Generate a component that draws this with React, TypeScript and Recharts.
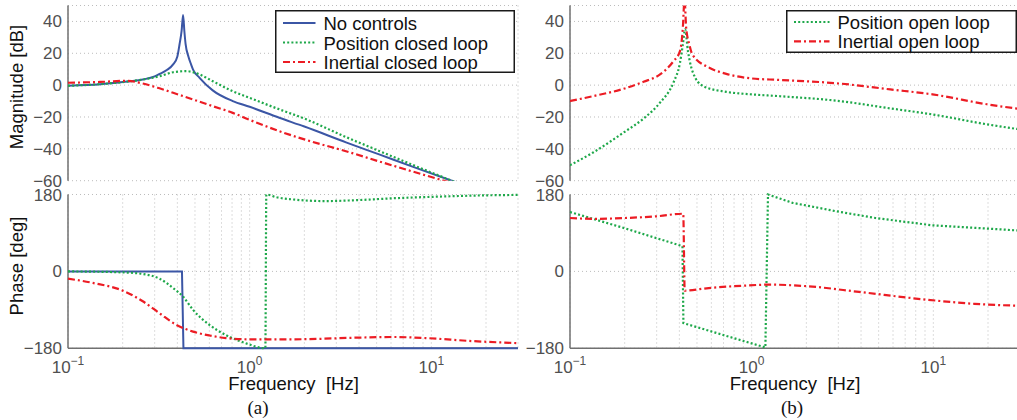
import React from 'react';
import { LineChart, Line, XAxis, YAxis, CartesianGrid, Legend } from 'recharts';

// ---------- axes ----------
const FREQ_DOMAIN: [number, number] = [0.1, 30];
const freqGridTicks = [0.1, 0.2, 0.3, 0.4, 0.5, 0.6, 0.7, 0.8, 0.9, 1, 2, 3, 4, 5, 6, 7, 8, 9, 10, 20];
const decadeTicks = [0.1, 1, 10];
const decadeExponents = ['\u22121', '0', '1'];
const MAG_DOMAIN: [number, number] = [-60, 50];
const magTicks = [-60, -40, -20, 0, 20, 40];
const PHASE_DOMAIN: [number, number] = [-180, 180];
const phaseTicks = [-180, 0, 180];

// ---------- (a) closed loop magnitude [dB] ----------
const noCtrlMagFreq = [0.1, 0.15, 0.2, 0.258, 0.3, 0.319, 0.35, 0.379, 0.4, 0.411, 0.422, 0.43, 0.437, 0.444, 0.46, 0.476, 0.488, 0.53, 0.626, 0.807, 1.0, 1.456, 2.0, 3.39, 5.16, 7.87, 13.3, 20, 30];
const noCtrlMagDb = [-0.4, 0.5, 1.9, 3.5, 5.5, 7, 9.5, 13, 18, 25.5, 34, 44, 34, 25.7, 18, 13, 9.8, 4.6, -3.3, -10, -13.6, -20.5, -26, -35.9, -43.5, -51.2, -60.5, -67.5, -74.5];

const posClosedMagFreq = [0.1, 0.15, 0.2, 0.258, 0.319, 0.379, 0.447, 0.53, 0.626, 0.807, 1.0, 1.456, 2.0, 3.39, 5.16, 7.87, 13.3, 20, 30];
const posClosedMagDb = [-0.4, 0.6, 1.9, 3.5, 5.6, 8.1, 8.8, 6.7, 2.5, -3.8, -8, -15.2, -21, -32.6, -41.3, -50, -60.5, -68.5, -76];

const inClosedMagFreq = [0.1, 0.15, 0.21, 0.258, 0.319, 0.379, 0.488, 0.626, 0.807, 1.0, 1.55, 2.2, 3.39, 5.16, 7.87, 12.2, 20, 30];
const inClosedMagDb = [1.5, 2.0, 2.7, 1.0, -2, -4.8, -9, -13.2, -17.4, -21.8, -30, -35.5, -41.5, -47.9, -54.2, -60.5, -67, -73];

// ---------- (a) closed loop phase [deg] ----------
const noCtrlPhaseFreq = [0.1, 0.424, 0.432, 30];
const noCtrlPhaseDeg = [0, 0, -180, -180];

const posClosedPhaseFreq = [0.1, 0.2, 0.258, 0.319, 0.379, 0.43, 0.488, 0.6, 0.74, 0.95, 1.22, 1.235, 1.39, 1.72, 2.62, 3.99, 6.07, 9.3, 19.8, 30];
const posClosedPhaseDeg = [0, -2.3, -6, -17, -39, -59, -90, -125, -149, -168, -180, 180, 174, 168.5, 164.6, 167, 171, 174, 178, 179];

const inClosedPhaseFreq = [0.1, 0.137, 0.2, 0.258, 0.319, 0.394, 0.488, 0.6, 0.74, 1.0, 1.72, 3.99, 6.07, 9.3, 16.6, 30];
const inClosedPhaseDeg = [-17, -27, -45, -70, -98, -125, -141, -150, -156, -159, -159, -155, -153.5, -156, -163, -168];

// ---------- (b) open loop magnitude [dB] ----------
const posOpenMagFreq = [0.1, 0.134, 0.2, 0.254, 0.313, 0.371, 0.403, 0.418, 0.43, 0.446, 0.472, 0.54, 0.725, 1.0, 1.41, 3.05, 5.8, 9.9, 19.7, 30];
const posOpenMagDb = [-50.3, -42.3, -29.3, -21, -11, 1.6, 14, 25.5, 35, 21.3, 8.8, -0.6, -4.2, -5.8, -6.9, -10, -14.6, -18.4, -24.6, -27.8];

const inOpenMagFreq = [0.1, 0.134, 0.2, 0.254, 0.313, 0.371, 0.403, 0.418, 0.427, 0.436, 0.454, 0.472, 0.588, 0.725, 1.0, 1.41, 3.05, 5.8, 9.9, 19.7, 30];
const inOpenMagDb = [-10, -6.9, -2.1, 2.1, 6.7, 15, 21.3, 36, 54, 36, 25.5, 19.2, 10.8, 7.1, 4.2, 3.3, 1.0, -2.7, -5.8, -12, -15];

// ---------- (b) open loop phase [deg] ----------
const posOpenPhaseFreq = [0.1, 0.2, 0.416, 0.421, 0.725, 1.19, 1.23, 1.68, 2.9, 4.8, 9.8, 16.9, 30];
const posOpenPhaseDeg = [139, 101, 59, -121, -151, -178, 180, 160.5, 141, 125, 108, 102, 95.5];

const inOpenPhaseFreq = [0.1, 0.134, 0.2, 0.3, 0.42, 0.428, 0.58, 0.89, 1.25, 2.07, 3.9, 9.1, 16.9, 30];
const inOpenPhaseDeg = [125, 123, 125, 129, 135, -45, -39, -33.6, -31, -35, -48, -66, -76, -80.5];

// ---------- styling ----------
const FONT = '"Liberation Sans", Arial, Helvetica, sans-serif';
const SERIF = '"Liberation Serif", "Times New Roman", serif';
const TICK_COLOR = '#505050';
const FRAME = '#707070';
const GRID = '#bcbcbc';
const BLUE = '#3b56a5';
const GREEN = '#1ea84a';
const RED = '#ec1c24';

type SeriesStyle = { name: string; color: string; dash?: string; width: number };
const styleNoCtrl: SeriesStyle = { name: 'No controls', color: BLUE, width: 2 };
const stylePosClosed: SeriesStyle = { name: 'Position closed loop', color: GREEN, dash: '2 2.2', width: 2.2 };
const styleInClosed: SeriesStyle = { name: 'Inertial closed loop', color: RED, dash: '7 3 2 3', width: 2.2 };
const stylePosOpen: SeriesStyle = { name: 'Position open loop', color: GREEN, dash: '2 2.2', width: 2.2 };
const styleInOpen: SeriesStyle = { name: 'Inertial open loop', color: RED, dash: '7 3 2 3', width: 2.2 };

const zip = (f: number[], v: number[]) => f.map((x, i) => ({ f: x, v: v[i] }));

const fmtY = (v: number) => (v < 0 ? '\u2212' + Math.abs(v) : String(v));

const DecadeTick = (props: any) => {
  const { x, y, payload } = props;
  const i = decadeTicks.indexOf(payload.value);
  if (i < 0) return <g />;
  return (
    <text x={x} y={y + 18.5} textAnchor="middle" fill={TICK_COLOR} fontSize={17} fontFamily={FONT}>
      <tspan>10</tspan>
      <tspan dy={-8} fontSize={12}>{decadeExponents[i]}</tspan>
    </text>
  );
};

const LegendBox = ({ items, width, height, textX, baselines }: { items: SeriesStyle[]; width: number; height: number; textX: number; baselines: number[] }) => (
  <svg width={width} height={height} style={{ display: 'block' }}>
    <rect x={0.75} y={0.75} width={width - 1.5} height={height - 1.5} fill="#ffffff" stroke="#1a1a1a" strokeWidth={1.5} />
    {items.map((it, i) => (
      <g key={it.name}>
        <line x1={8} x2={textX - 8} y1={baselines[i] - 7} y2={baselines[i] - 7} stroke={it.color} strokeWidth={it.width} strokeDasharray={it.dash} />
        <text x={textX} y={baselines[i]} fontSize={18.5} fontFamily={FONT} fill="#111">{it.name}</text>
      </g>
    ))}
  </svg>
);

type Curve = 'monotone' | 'linear';
type PanelProps = {
  left: number;
  top: number;
  width: number;
  height: number;
  marginTop: number;
  marginRight: number;
  marginBottom: number;
  xAxisHeight: number;
  showXLabels: boolean;
  clip: boolean;
  yDomain: [number, number];
  yTicks: number[];
  series: { data: { f: number; v: number }[]; style: SeriesStyle; curve: Curve }[];
  legend?: React.ReactNode;
};

const Panel = (p: PanelProps) => (
  <div style={{ position: 'absolute', left: p.left, top: p.top }}>
    <LineChart width={p.width} height={p.height} margin={{ top: p.marginTop, right: p.marginRight, bottom: p.marginBottom, left: 0 }}>
      <CartesianGrid stroke={GRID} strokeDasharray="1 3" strokeWidth={1} />
      <XAxis
        dataKey="f"
        type="number"
        scale="log"
        domain={FREQ_DOMAIN}
        allowDataOverflow={p.clip}
        ticks={freqGridTicks}
        interval={0}
        tick={p.showXLabels ? <DecadeTick /> : false}
        tickLine={false}
        tickSize={4}
        tickMargin={2}
        height={p.xAxisHeight}
        axisLine={{ stroke: FRAME, strokeWidth: 1.5 }}
      />
      <XAxis
        xAxisId="top"
        orientation="top"
        dataKey="f"
        type="number"
        scale="log"
        domain={FREQ_DOMAIN}
        allowDataOverflow
        height={0}
        tick={false}
        tickLine={false}
        axisLine={{ stroke: FRAME, strokeWidth: 1.5 }}
      />
      <YAxis
        type="number"
        domain={p.yDomain}
        allowDataOverflow={p.clip}
        ticks={p.yTicks}
        interval={0}
        width={68}
        tickLine={false}
        tickSize={4}
        tickMargin={2}
        tickFormatter={fmtY}
        tick={{ fill: TICK_COLOR, fontSize: 17, fontFamily: FONT }}
        axisLine={{ stroke: FRAME, strokeWidth: 1.5 }}
      />
      <YAxis
        yAxisId="right"
        orientation="right"
        type="number"
        domain={p.yDomain}
        width={0}
        tick={false}
        tickLine={false}
        axisLine={{ stroke: FRAME, strokeWidth: 1.5 }}
      />
      {p.series.map((s) => (
        <Line
          key={s.style.name}
          name={s.style.name}
          data={s.data}
          dataKey="v"
          type={s.curve}
          dot={false}
          activeDot={false}
          stroke={s.style.color}
          strokeWidth={s.style.width}
          strokeDasharray={s.style.dash}
          isAnimationActive={false}
          {...({ zIndex: 600 } as any)}
        />
      ))}
      {p.legend}
    </LineChart>
  </div>
);

export default function App() {
  const magAItems = [styleNoCtrl, stylePosClosed, styleInClosed];
  const magBItems = [stylePosOpen, styleInOpen];
  return (
    <div style={{ position: 'absolute', left: 0, top: 0, width: 1017, height: 420, overflow: 'hidden', background: '#fff' }}>
      {/* (a) magnitude */}
      <Panel
        left={0}
        top={0}
        width={521}
        height={200}
        marginTop={5.5}
        marginRight={3}
        marginBottom={19.3}
        xAxisHeight={0}
        showXLabels={false}
        clip={true}
        yDomain={MAG_DOMAIN}
        yTicks={magTicks}
        series={[
          { data: zip(noCtrlMagFreq, noCtrlMagDb), style: styleNoCtrl, curve: 'monotone' },
          { data: zip(posClosedMagFreq, posClosedMagDb), style: stylePosClosed, curve: 'monotone' },
          { data: zip(inClosedMagFreq, inClosedMagDb), style: styleInClosed, curve: 'monotone' },
        ]}
        legend={
          <Legend
            layout="vertical"
            align="center"
            verticalAlign="middle"
            wrapperStyle={{ left: 275, top: 10, width: 240, height: 63 }}
            content={() => <LegendBox items={magAItems} width={240} height={63} textX={48.5} baselines={[20, 39.5, 59]} />}
          />
        }
      />
      {/* (a) phase */}
      <Panel
        left={0}
        top={179}
        width={521}
        height={209.3}
        marginTop={15.5}
        marginRight={3}
        marginBottom={0}
        xAxisHeight={40}
        showXLabels={true}
        clip={false}
        yDomain={PHASE_DOMAIN}
        yTicks={phaseTicks}
        series={[
          { data: zip(noCtrlPhaseFreq, noCtrlPhaseDeg), style: styleNoCtrl, curve: 'linear' },
          { data: zip(posClosedPhaseFreq, posClosedPhaseDeg), style: stylePosClosed, curve: 'monotone' },
          { data: zip(inClosedPhaseFreq, inClosedPhaseDeg), style: styleInClosed, curve: 'monotone' },
        ]}
      />
      {/* (b) magnitude */}
      <Panel
        left={502}
        top={0}
        width={521}
        height={200}
        marginTop={5.5}
        marginRight={3}
        marginBottom={19.3}
        xAxisHeight={0}
        showXLabels={false}
        clip={true}
        yDomain={MAG_DOMAIN}
        yTicks={magTicks}
        series={[
          { data: zip(posOpenMagFreq, posOpenMagDb), style: stylePosOpen, curve: 'monotone' },
          { data: zip(inOpenMagFreq, inOpenMagDb), style: styleInOpen, curve: 'monotone' },
        ]}
        legend={
          <Legend
            layout="vertical"
            align="center"
            verticalAlign="middle"
            wrapperStyle={{ left: 284, top: 10, width: 231, height: 43 }}
            content={() => <LegendBox items={magBItems} width={231} height={43} textX={51.5} baselines={[19, 38.3]} />}
          />
        }
      />
      {/* (b) phase */}
      <Panel
        left={502}
        top={179}
        width={521}
        height={209.3}
        marginTop={15.5}
        marginRight={3}
        marginBottom={0}
        xAxisHeight={40}
        showXLabels={true}
        clip={false}
        yDomain={PHASE_DOMAIN}
        yTicks={phaseTicks}
        series={[
          { data: zip(posOpenPhaseFreq, posOpenPhaseDeg), style: stylePosOpen, curve: 'linear' },
          { data: zip(inOpenPhaseFreq, inOpenPhaseDeg), style: styleInOpen, curve: 'monotone' },
        ]}
      />
      {/* titles */}
      <svg width={1017} height={420} style={{ position: 'absolute', left: 0, top: 0, pointerEvents: 'none' }}>
        <text x={22.5} y={87} transform="rotate(-90 22.5 87)" textAnchor="middle" fontSize={18.5} fontFamily={FONT} fill="#111">Magnitude [dB]</text>
        <text x={22.5} y={266} transform="rotate(-90 22.5 266)" textAnchor="middle" fontSize={18.5} fontFamily={FONT} fill="#111">Phase [deg]</text>
        <text x={293.5} y={390} textAnchor="middle" fontSize={18.5} fontFamily={FONT} fill="#111" style={{ whiteSpace: 'pre' }}>{'Frequency  [Hz]'}</text>
        <text x={795} y={390} textAnchor="middle" fontSize={18.5} fontFamily={FONT} fill="#111" style={{ whiteSpace: 'pre' }}>{'Frequency  [Hz]'}</text>
        <text x={258} y={414} textAnchor="middle" fontSize={19} fontFamily={SERIF} fill="#111">(a)</text>
        <text x={792} y={414} textAnchor="middle" fontSize={19} fontFamily={SERIF} fill="#111">(b)</text>
      </svg>
    </div>
  );
}
